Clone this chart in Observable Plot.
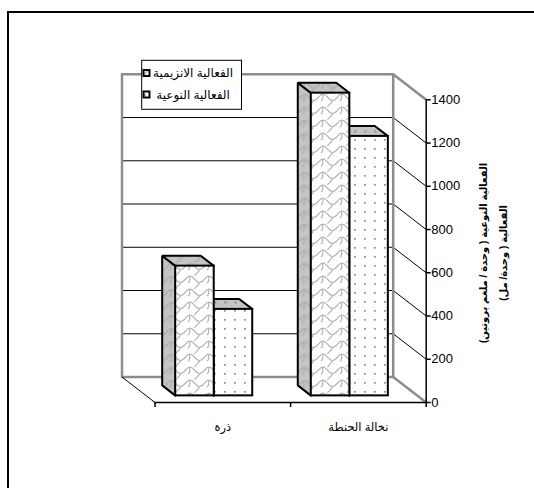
<!DOCTYPE html>
<html>
<head>
<meta charset="utf-8">
<script src="https://cdn.jsdelivr.net/npm/d3@7"></script>
<script src="https://cdn.jsdelivr.net/npm/@observablehq/plot@0.6"></script>
<style>
  html, body { margin: 0; padding: 0; background: #fff; overflow: hidden; }
  #wrap { position: relative; width: 534px; height: 488px; }
  #frame { position: absolute; left: 7px; top: 11px; width: 600px; height: 600px;
           border-left: 2px solid #000; border-top: 2px solid #000; pointer-events: none; }
  #chart svg { display: block; font-family: "Liberation Sans", "DejaVu Sans", sans-serif; }
</style>
</head>
<body>
<div id="wrap"><div id="chart"></div><div id="frame"></div></div>
<script>
// Activity of the enzyme produced on two substrates
const categories = ["ذرة", "نخالة الحنطة"];
const seriesNames = ["الفعالية الانزيمية", "الفعالية النوعية"];
const enzymatic = [600, 1400];   // الفعالية ( وحدة/ مل)
const specific = [400, 1200];    // الفعالية النوعية ( وحدة / ملغم بروتين)
const yTicks = [0, 200, 400, 600, 800, 1000, 1200, 1400];
const yTitle = ["الفعالية النوعية ( وحدة / ملغم بروتين)", "الفعالية ( وحدة/ مل)"];

// ---- layout of the pseudo-3D box (pixels) ----
const W = 534, H = 488;
const left = 121.5, right = 425.7;     // back-left edge .. front value axis
const floorY = 402, topTickY = 99.3;   // front plane: 0 and 1400
const depthPx = [-33, 25.5];           // offset from front plane to back wall
const yMaxTick = yTicks[yTicks.length - 1];
const nCat = categories.length;

const catPx = (right - left + depthPx[0]) / nCat;
const DX = depthPx[0] / catPx;                     // depth shift in category units
const ppu = (floorY - topTickY) / yMaxTick;        // pixels per value unit
const DY = depthPx[1] / ppu;                       // depth shift in value units
const yMax = yMaxTick + DY;

// bars: width and depth placement inside the box
const barW = 0.284;
const d0 = 0.26, d1 = 0.67;
const P = (u, v, d) => ({x: u + d * DX, y: v + d * DY});

const series = [enzymatic, specific];
const patterns = [
  {front: "url(#weave)", side: "url(#weaveGray)", top: "url(#weaveGray)"},
  {front: "url(#dots)", side: "url(#dotsGray)", top: "url(#dotsGray)"}
];

function barGeometry(values, j) {
  const fronts = [], sides = [], tops = [];
  values.forEach((v, i) => {
    const u0 = i + 0.5 - barW * series.length / 2 + j * barW, u1 = u0 + barW;
    fronts.push({x1: u0 + d0 * DX, x2: u1 + d0 * DX, y1: d0 * DY, y2: v + d0 * DY, value: v});
    [P(u0, 0, d0), P(u0, v, d0), P(u0, v, d1), P(u0, 0, d1)].forEach(p => sides.push({...p, id: i}));
    [P(u0, v, d0), P(u1, v, d0), P(u1, v, d1), P(u0, v, d1)].forEach(p => tops.push({...p, id: i}));
  });
  return {fronts, sides, tops};
}

// draw the right-hand series first so the left bar hides its side face
const barMarks = [];
for (let j = series.length - 1; j >= 0; --j) {
  const g = barGeometry(series[j], j);
  const pat = patterns[j];
  barMarks.push(
    Plot.line(g.sides, {x: "x", y: "y", z: "id", curve: "linear-closed", fill: pat.side, stroke: "#000", strokeWidth: 2, strokeLinejoin: "miter"}),
    Plot.line(g.tops, {x: "x", y: "y", z: "id", curve: "linear-closed", fill: pat.top, stroke: "#000", strokeWidth: 2, strokeLinejoin: "miter"}),
    Plot.rect(g.fronts, {x1: "x1", x2: "x2", y1: "y1", y2: "y2", fill: pat.front, stroke: "#000", strokeWidth: 2})
  );
}

const inner = yTicks.filter(v => v > 0 && v < yMaxTick);
const wallGray = "#8c8c8c";

const svg = Plot.plot({
  width: W, height: H,
  marginLeft: left, marginRight: W - right,
  marginTop: floorY - yMax * ppu, marginBottom: H - floorY,
  style: {fontSize: "13px", fontFamily: "'Liberation Sans', 'DejaVu Sans', sans-serif", color: "#000", background: "#fff"},
  x: {domain: [DX, nCat], axis: null},
  y: {domain: [0, yMax], axis: null},
  marks: [
    // back wall grid
    Plot.ruleY(inner, {y: v => v + DY, x1: DX, x2: nCat + DX, stroke: "#000", strokeWidth: 1}),
    // right wall grid
    Plot.link(inner, {x1: nCat + DX, y1: v => v + DY, x2: nCat, y2: v => v, stroke: "#000", strokeWidth: 1}),
    // back wall outline
    Plot.line([P(0, 0, 1), P(0, yMaxTick, 1), P(nCat, yMaxTick, 1), P(nCat, 0, 1)],
      {x: "x", y: "y", curve: "linear-closed", stroke: wallGray, strokeWidth: 2.5}),
    // right wall top and bottom edges
    Plot.link([0, yMaxTick], {x1: nCat + DX, y1: v => v + DY, x2: nCat, y2: v => v, stroke: wallGray, strokeWidth: 2.5}),
    // floor
    Plot.link([0], {x1: DX, y1: DY, x2: 0, y2: 0, stroke: "#000", strokeWidth: 1}),
    Plot.ruleY([0], {x1: 0, x2: nCat, stroke: "#000", strokeWidth: 1.5}),
    Plot.axisX({ticks: d3.range(nCat + 1), tickFormat: () => "", tickSize: 5, stroke: "#000", strokeWidth: 1.5}),
    // value axis
    Plot.ruleX([nCat], {y1: 0, y2: yMaxTick, stroke: "#000", strokeWidth: 1.5}),
    Plot.axisY({anchor: "right", ticks: yTicks, tickFormat: d => String(d), tickSize: 4, tickPadding: 1, label: null, fontSize: 13, strokeWidth: 1.5}),
    ...barMarks,
    // category labels
    Plot.text(categories, {x: (d, i) => i + 0.5, y: 0, dy: 25, text: d => d, fontSize: 11.5})
  ]
});

// fill patterns for the bar faces
const defs = d3.select(svg).insert("defs", ":first-child");
function weave(id, bg, ink) {
  const p = defs.append("pattern").attr("id", id).attr("patternUnits", "userSpaceOnUse")
    .attr("width", 19).attr("height", 13);
  p.append("rect").attr("width", 19).attr("height", 13).attr("fill", bg);
  p.append("path").attr("fill", "none").attr("stroke", ink).attr("stroke-width", 1.1)
    .attr("d", "M0,3 C4,3 5,9.5 9.5,9.5 C14,9.5 15,3 19,3 M9.5,9.5 C9.5,12 6,13 4.5,16 M9.5,-3.5 C9.5,-1 6,0 4.5,3 M0,3 C-1,6 1,8 -2,10 M19,3 C18,6 20,8 17,10");
}
function dots(id, bg, ink) {
  const p = defs.append("pattern").attr("id", id).attr("patternUnits", "userSpaceOnUse")
    .attr("width", 10).attr("height", 9);
  p.append("rect").attr("width", 10).attr("height", 9).attr("fill", bg);
  p.append("rect").attr("x", 4).attr("y", 4).attr("width", 1.7).attr("height", 1.7).attr("fill", ink);
}
weave("weave", "#fff", "#b0b0b0");
weave("weaveGray", "#c4c4c4", "#a8a8a8");
dots("dots", "#fff", "#8a8a8a");
dots("dotsGray", "#c4c4c4", "#7a7a7a");

// value axis title, two lines beside the axis
const tg = d3.select(svg).append("g").attr("font-weight", "bold").attr("font-size", 10).attr("text-anchor", "middle");
yTitle.forEach((t, i) => {
  tg.append("text").attr("transform", `translate(${[483.6, 503.4][i]},253) rotate(-90)`)
    .attr("dy", "0.35em").text(t);
});

// legend
const lg = d3.select(svg).append("g");
lg.append("rect").attr("x", 141.7).attr("y", 60.3).attr("width", 99.8).attr("height", 49)
  .attr("fill", "#fff").attr("stroke", "#000").attr("stroke-width", 1);
seriesNames.forEach((name, j) => {
  const cy = [73, 94.5][j];
  lg.append("rect").attr("x", 143.5).attr("y", cy - 3).attr("width", 6).attr("height", 6)
    .attr("fill", patterns[j].front).attr("stroke", "#000").attr("stroke-width", 2);
  lg.append("text").attr("x", 193).attr("y", cy).attr("dy", "0.35em")
    .attr("text-anchor", "middle").attr("font-size", 12).text(name);
});

document.getElementById("chart").appendChild(svg);
</script>
</body>
</html>
